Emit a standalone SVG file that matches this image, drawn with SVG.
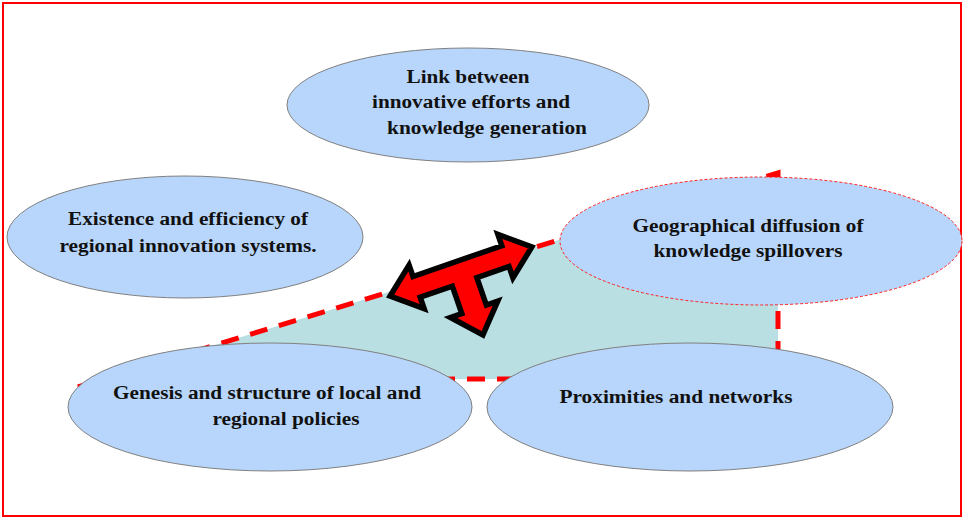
<svg xmlns="http://www.w3.org/2000/svg" width="963" height="518" viewBox="0 0 963 518">
<style>
.node{fill:#b8d6fb;stroke:#808080;stroke-width:1}
.geo{fill:#b8d6fb;stroke:#ff2020;stroke-width:1;stroke-dasharray:3 2}
.lbl{font-family:"Liberation Serif","Times New Roman",serif;font-weight:bold;font-size:18px;fill:#111;text-anchor:middle}
.zone{fill:#b9dfe3;stroke:#ff0000;stroke-width:5;stroke-dasharray:18 12}
.arrow{fill:#ff0000;stroke:#000;stroke-width:5.5;stroke-linejoin:miter;stroke-miterlimit:10}
</style>
<rect x="3" y="3" width="958" height="513" fill="#ffffff" stroke="#ff0000" stroke-width="2"/>
<g id="connectors">
<polygon class="zone" points="78,387 778,173 778,378 200,380"/>
<path class="arrow" transform="translate(461,271.5) rotate(-19.1)" d="M-75,0 L-47,-23 L-47,-11 L47,-11 L47,-23 L75,0 L47,23 L47,11 L13,11 L13,40 L25,40 L0,67 L-25,40 L-13,40 L-13,11 L-47,11 L-47,23 Z"/>
</g>
<g id="node-link">
<ellipse class="node" cx="468" cy="105" rx="181" ry="57"/>
<text class="lbl" x="468" y="83" textLength="123" lengthAdjust="spacingAndGlyphs">Link between</text>
<text class="lbl" x="471" y="108" textLength="198" lengthAdjust="spacingAndGlyphs">innovative efforts and</text>
<text class="lbl" x="487" y="134" textLength="200" lengthAdjust="spacingAndGlyphs">knowledge generation</text>
</g>
<g id="node-existence">
<ellipse class="node" cx="185" cy="237" rx="178" ry="61"/>
<text class="lbl" x="188" y="225" textLength="240" lengthAdjust="spacingAndGlyphs">Existence and efficiency of</text>
<text class="lbl" x="188" y="252" textLength="257" lengthAdjust="spacingAndGlyphs">regional innovation systems.</text>
</g>
<g id="node-geographical">
<ellipse class="geo" cx="761" cy="241" rx="201" ry="64"/>
<text class="lbl" x="748" y="232" textLength="231" lengthAdjust="spacingAndGlyphs">Geographical diffusion of</text>
<text class="lbl" x="748" y="257" textLength="189" lengthAdjust="spacingAndGlyphs">knowledge spillovers</text>
</g>
<g id="node-genesis">
<ellipse class="node" cx="270" cy="407" rx="202" ry="64"/>
<text class="lbl" x="267" y="399" textLength="308" lengthAdjust="spacingAndGlyphs">Genesis and structure of local and</text>
<text class="lbl" x="286" y="425" textLength="147" lengthAdjust="spacingAndGlyphs">regional policies</text>
</g>
<g id="node-proximities">
<ellipse class="node" cx="690" cy="407" rx="203" ry="64"/>
<text class="lbl" x="676" y="403" textLength="233" lengthAdjust="spacingAndGlyphs">Proximities and networks</text>
</g>
</svg>
